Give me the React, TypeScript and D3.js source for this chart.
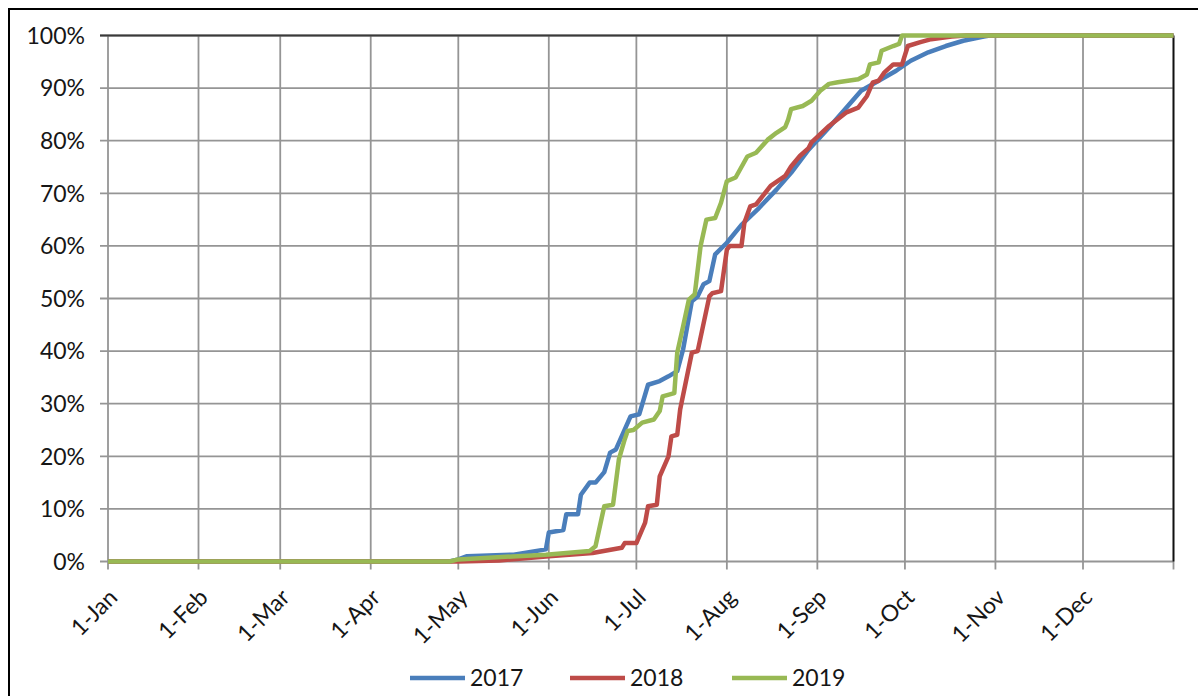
import React from "react";
import * as d3 from "d3";

const monthLabels = ["1-Jan","1-Feb","1-Mar","1-Apr","1-May","1-Jun","1-Jul","1-Aug","1-Sep","1-Oct","1-Nov","1-Dec"];
const yTicks = [0,10,20,30,40,50,60,70,80,90,100];
const seriesNames = ["2017","2018","2019"];
const seriesColors = ["#4A7EBB","#BE4B48","#98B954"];

const data2017: [string, number][] = [
  ["2019-01-01",0],["2019-04-28",0],["2019-05-01",0.4],["2019-05-04",1.0],["2019-05-20",1.3],
  ["2019-05-31",2.3],["2019-06-01",5.5],["2019-06-06",6.0],["2019-06-07",9.0],["2019-06-11",9.0],
  ["2019-06-12",12.7],["2019-06-15",15.0],["2019-06-17",15.0],["2019-06-20",17.0],["2019-06-22",20.7],
  ["2019-06-24",21.3],["2019-06-29",27.6],["2019-07-02",28.0],["2019-07-05",33.6],["2019-07-09",34.3],
  ["2019-07-12",35.2],["2019-07-15",36.2],["2019-07-17",40.3],["2019-07-20",49.5],["2019-07-22",50.4],
  ["2019-07-24",52.7],["2019-07-26",53.3],["2019-07-28",58.4],["2019-08-01",60.6],["2019-08-06",64.0],
  ["2019-08-12",67.2],["2019-08-18",70.7],["2019-08-23",73.9],["2019-08-29",78.3],["2019-09-05",82.5],
  ["2019-09-11",86.3],["2019-09-16",89.5],["2019-09-22",91.4],["2019-09-28",93.3],["2019-10-03",95.2],
  ["2019-10-09",96.8],["2019-10-15",98.0],["2019-10-21",99.0],["2019-10-28",99.8],["2019-10-30",100],
  ["2020-01-01",100]
];

const data2018: [string, number][] = [
  ["2019-01-01",0],["2019-05-01",0],["2019-05-15",0.2],["2019-05-22",0.5],["2019-06-01",1.0],
  ["2019-06-16",1.6],["2019-06-26",2.6],["2019-06-27",3.5],["2019-07-01",3.5],["2019-07-04",7.4],
  ["2019-07-05",10.5],["2019-07-08",10.8],["2019-07-09",16.2],["2019-07-12",20.0],["2019-07-13",23.8],
  ["2019-07-15",24.1],["2019-07-16",28.9],["2019-07-20",39.7],["2019-07-22",40.0],["2019-07-26",50.4],
  ["2019-07-27",51.0],["2019-07-30",51.4],["2019-08-01",59.3],["2019-08-02",60.0],["2019-08-06",60.0],
  ["2019-08-07",64.4],["2019-08-09",67.5],["2019-08-11",67.9],["2019-08-16",71.4],["2019-08-21",73.3],
  ["2019-08-23",75.1],["2019-08-26",77.1],["2019-08-29",78.6],["2019-08-30",79.7],["2019-09-05",82.8],
  ["2019-09-11",85.4],["2019-09-15",86.3],["2019-09-18",88.5],["2019-09-20",91.1],["2019-09-22",91.4],
  ["2019-09-24",93.0],["2019-09-27",94.5],["2019-09-30",94.5],["2019-10-02",98.0],["2019-10-06",98.7],
  ["2019-10-10",99.3],["2019-10-17",99.8],["2019-10-22",100],["2020-01-01",100]
];

const data2019: [string, number][] = [
  ["2019-01-01",0],["2019-04-28",0],["2019-05-01",0.4],["2019-05-31",1.3],["2019-06-15",2.0],
  ["2019-06-17",2.9],["2019-06-19",8.0],["2019-06-20",10.5],["2019-06-23",10.8],["2019-06-25",19.4],
  ["2019-06-27",23.2],["2019-06-28",24.8],["2019-06-30",25.0],["2019-07-03",26.4],["2019-07-07",27.0],
  ["2019-07-09",28.6],["2019-07-10",31.4],["2019-07-14",32.0],["2019-07-15",39.7],["2019-07-17",44.7],
  ["2019-07-19",49.8],["2019-07-21",50.8],["2019-07-23",60.0],["2019-07-25",65.0],["2019-07-28",65.3],
  ["2019-07-30",68.2],["2019-08-01",72.3],["2019-08-04",73.0],["2019-08-08",77.0],["2019-08-11",77.7],
  ["2019-08-15",80.2],["2019-08-18",81.5],["2019-08-21",82.6],["2019-08-22",84.0],["2019-08-23",86.0],
  ["2019-08-27",86.6],["2019-08-30",87.6],["2019-09-02",89.5],["2019-09-05",90.8],["2019-09-08",91.1],
  ["2019-09-15",91.7],["2019-09-18",92.6],["2019-09-19",94.5],["2019-09-22",94.9],["2019-09-23",97.1],
  ["2019-09-27",98.0],["2019-09-29",98.4],["2019-09-30",100],["2020-01-01",100]
];

const allSeries = [data2017, data2018, data2019];

const W = 1198, H = 696;
const FONT = "Lato, 'Open Sans', sans-serif";

export default function App() {
  const parse = d3.utcParse("%Y-%m-%d");
  const x = d3.scaleUtc()
    .domain([parse("2019-01-01")!, parse("2020-01-01")!])
    .range([108, 1173.5]);
  const y = d3.scaleLinear().domain([0, 100]).range([561.5, 35.5]);
  const monthTicks = d3.utcMonth.range(parse("2019-01-01")!, parse("2020-01-02")!);

  const line = d3.line<[string, number]>()
    .x(d => x(parse(d[0])!))
    .y(d => y(d[1]));

  const legendX = [410, 570, 732];

  return (
    <svg width={W} height={H} style={{ position: "absolute", left: 0, top: 0, background: "#fff" }}
      fontFamily={FONT}>
      <rect x={0} y={0} width={W} height={H} fill="#fff" />
      {/* outer frame */}
      <rect x={9} y={9} width={W + 20} height={H + 20} fill="none" stroke="#000" strokeWidth={2} />
      {/* gridlines */}
      {yTicks.map(t => (
        <line key={"gy" + t} x1={100} x2={x.range()[1]} y1={y(t)} y2={y(t)} stroke="#959595" strokeWidth={1.8} />
      ))}
      {monthTicks.map((d, i) => (
        <line key={"gx" + i} x1={x(d)} x2={x(d)} y1={y(100)} y2={y(0) + 8} stroke="#959595" strokeWidth={1.8} />
      ))}
      {/* plot border top/right */}
      <line x1={100} x2={x.range()[1]} y1={y(100)} y2={y(100)} stroke="#3a3a3a" strokeWidth={1.8} />
      <line x1={x.range()[1]} x2={x.range()[1]} y1={y(100)} y2={y(0)} stroke="#111" strokeWidth={1.8} />
      {/* y labels */}
      {yTicks.map(t => (
        <text key={"ly" + t} x={85} y={y(t)} dy="0.36em" textAnchor="end" fontSize={23} fill="#161616">
          {t + "%"}
        </text>
      ))}
      {/* x labels */}
      {monthTicks.slice(0, 12).map((d, i) => (
        <text key={"lx" + i} transform={`translate(${x(d) + 5},${593}) rotate(-45)`} dy="0.36em"
          textAnchor="end" fontSize={23} fill="#161616">
          {monthLabels[i]}
        </text>
      ))}
      {/* series */}
      {allSeries.map((s, i) => (
        <path key={"s" + i} d={line(s) || ""} fill="none" stroke={seriesColors[i]} strokeWidth={4.5}
          strokeLinejoin="round" strokeLinecap="butt" />
      ))}
      {/* legend */}
      {seriesNames.map((n, i) => (
        <g key={"lg" + i}>
          <line x1={legendX[i]} x2={legendX[i] + 55} y1={678} y2={678} stroke={seriesColors[i]} strokeWidth={4.5} />
          <text x={legendX[i] + 60} y={686} fontSize={23} fill="#161616">{n}</text>
        </g>
      ))}
    </svg>
  );
}
